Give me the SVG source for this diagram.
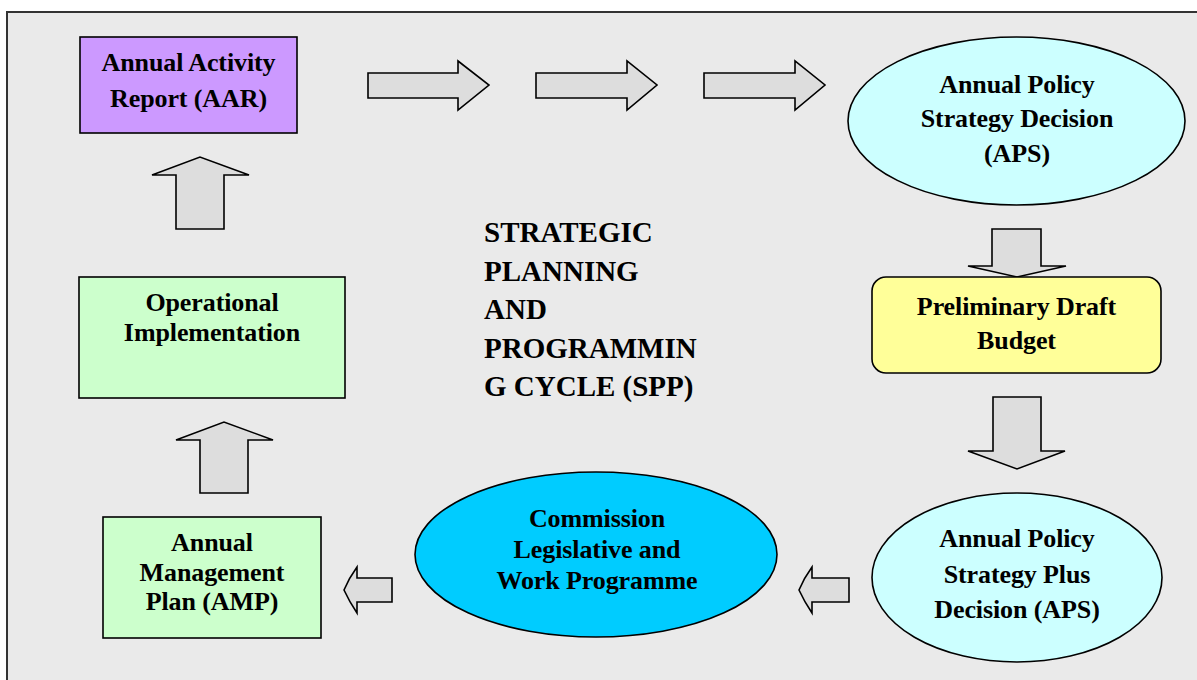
<svg xmlns="http://www.w3.org/2000/svg" width="1197" height="680" viewBox="0 0 1197 680">
  <style>
    .frame { fill: #EAEAEA; stroke: #333333; stroke-width: 2; }
    .node { stroke: #000000; stroke-width: 1.6; }
    .arrow { fill: #DDDDDD; stroke: #000000; stroke-width: 1.6; stroke-linejoin: miter; }
    .lbl { font-family: 'Liberation Serif', 'Times New Roman', serif; font-weight: 700; font-size: 26px; fill: #000000; text-anchor: middle; letter-spacing: -0.1px; }
    .title { font-family: 'Liberation Serif', 'Times New Roman', serif; font-weight: 700; font-size: 29px; fill: #000000; }
  </style>
  <rect width="1197" height="680" fill="#FFFFFF"/>
  <rect class="frame" x="7" y="12" width="1200" height="680"/>

  <g id="connectors">
    <polygon class="arrow" points="368,73 458,73 458,61 489,85 458,110 458,98 368,98"/>
    <polygon class="arrow" points="536,73 627,73 627,61 657,85 627,110 627,98 536,98"/>
    <polygon class="arrow" points="704,73 795,73 795,61 825,85 795,110 795,98 704,98"/>
    <polygon class="arrow" points="992,229 1041,229 1041,266 1066,266 1017,277 968,266 992,266"/>
    <polygon class="arrow" points="993,397 1041,397 1041,451 1065,451 1017,469 968,451 993,451"/>
    <path class="arrow" d="M849,578 L849,602 L812,602 L812,613 Q804,601 799,590 Q804,578 812,567 L812,578 Z"/>
    <path class="arrow" d="M392,578 L392,602 L357,602 L357,613 Q349,601 344,590 Q349,578 357,567 L357,578 Z"/>
    <polygon class="arrow" points="200,493 200,440 176,440 224,422 273,440 248,440 248,493"/>
    <polygon class="arrow" points="176,229 176,175 152,175 200,157 249,175 224,175 224,229"/>
  </g>

  <g id="aar">
    <rect class="node" x="80" y="37" width="217" height="96" fill="#CC99FF"/>
    <text class="lbl" x="188.5" y="71">Annual Activity</text>
    <text class="lbl" x="188.5" y="107">Report (AAR)</text>
  </g>

  <g id="aps">
    <ellipse class="node" cx="1016.5" cy="121" rx="168.5" ry="84" fill="#CCFFFF"/>
    <text class="lbl" x="1017" y="93">Annual Policy</text>
    <text class="lbl" x="1017" y="127">Strategy Decision</text>
    <text class="lbl" x="1017" y="162">(APS)</text>
  </g>

  <g id="pdb">
    <rect class="node" x="872" y="277" width="289" height="96" rx="14" ry="14" fill="#FFFF99"/>
    <text class="lbl" x="1016.5" y="315">Preliminary Draft</text>
    <text class="lbl" x="1016.5" y="349">Budget</text>
  </g>

  <g id="aps-plus">
    <ellipse class="node" cx="1017" cy="577.5" rx="145" ry="84.5" fill="#CCFFFF"/>
    <text class="lbl" x="1017" y="547">Annual Policy</text>
    <text class="lbl" x="1017" y="583">Strategy Plus</text>
    <text class="lbl" x="1017" y="618">Decision (APS)</text>
  </g>

  <g id="clwp">
    <ellipse class="node" cx="596" cy="554.5" rx="181" ry="82.5" fill="#00CCFF"/>
    <text class="lbl" x="597" y="527">Commission</text>
    <text class="lbl" x="597" y="558">Legislative and</text>
    <text class="lbl" x="597" y="589">Work Programme</text>
  </g>

  <g id="amp">
    <rect class="node" x="103" y="517" width="218" height="121" fill="#CCFFCC"/>
    <text class="lbl" x="212" y="551">Annual</text>
    <text class="lbl" x="212" y="581">Management</text>
    <text class="lbl" x="212" y="610">Plan (AMP)</text>
  </g>

  <g id="oi">
    <rect class="node" x="79" y="277" width="266" height="121" fill="#CCFFCC"/>
    <text class="lbl" x="212" y="311">Operational</text>
    <text class="lbl" x="212" y="341">Implementation</text>
  </g>

  <g id="spp-title">
    <text class="title" x="484" y="242">STRATEGIC</text>
    <text class="title" x="484" y="281">PLANNING</text>
    <text class="title" x="484" y="319">AND</text>
    <text class="title" x="484" y="358">PROGRAMMIN</text>
    <text class="title" x="484" y="396">G CYCLE (SPP)</text>
  </g>
</svg>
